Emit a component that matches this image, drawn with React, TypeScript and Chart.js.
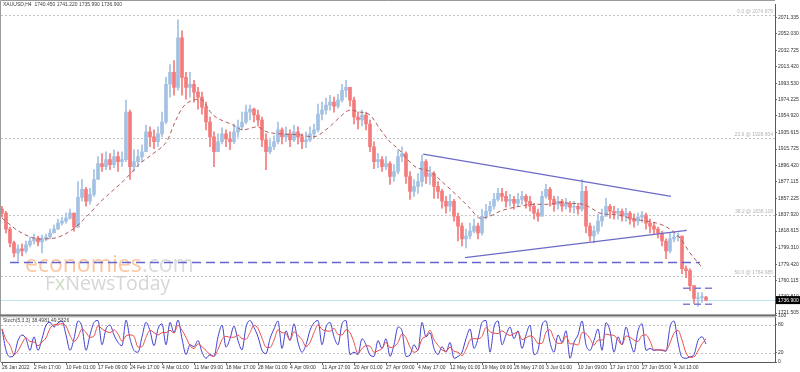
import React, { useEffect, useRef } from "react";
import { Chart, registerables } from "chart.js";

Chart.register(...registerables);

// ---------- DATA ----------
const headerText = "XAUUSD,H4  1740.450 1741.220 1735.990 1736.900";
const stochText = "Stoch(5,3,3) 38.4981 49.5326";

const firstOpen = 1844.5;
const closes = [
  1839.8, 1821.0, 1804.6, 1792.8, 1797.5, 1795.2, 1802.2, 1806.9, 1810.4, 1805.7,
  1809.3, 1811.6, 1816.3, 1821.0, 1828.0, 1830.4, 1833.9, 1839.8, 1823.3, 1858.5,
  1867.9, 1853.9, 1862.1, 1879.7, 1898.5, 1894.9, 1903.1, 1897.3, 1906.7, 1900.8,
  1903.1, 1959.5, 1894.9, 1900.8, 1906.7, 1912.5, 1936.0, 1930.1, 1924.3, 1933.7,
  1947.7, 1992.4, 2006.4, 1988.8, 2047.5, 2000.6, 1988.8, 1992.4, 1983.0, 1977.1,
  1965.4, 1947.7, 1930.1, 1912.5, 1924.3, 1933.7, 1927.8, 1924.3, 1936.0, 1941.9,
  1947.7, 1959.5, 1963.0, 1956.0, 1950.1, 1926.6, 1912.5, 1918.4, 1924.3, 1938.4,
  1930.1, 1933.7, 1926.6, 1936.0, 1930.1, 1924.3, 1926.6, 1933.7, 1938.4, 1957.1,
  1961.8, 1967.7, 1971.2, 1966.5, 1973.6, 1985.3, 1988.8, 1973.6, 1953.6, 1950.1,
  1956.0, 1945.4, 1918.4, 1900.8, 1903.1, 1894.9, 1898.5, 1883.2, 1889.1, 1906.7,
  1910.2, 1883.2, 1865.6, 1871.5, 1877.3, 1900.8, 1883.2, 1886.7, 1871.5, 1865.6,
  1853.9, 1848.0, 1853.9, 1836.2, 1824.5, 1809.3, 1812.8, 1818.6, 1824.5, 1816.3,
  1836.2, 1842.1, 1848.0, 1856.2, 1863.2, 1859.7, 1853.9, 1856.2, 1851.5, 1856.2,
  1859.7, 1853.9, 1848.0, 1839.8, 1836.2, 1859.7, 1867.9, 1856.2, 1850.3, 1853.9,
  1848.0, 1851.5, 1846.8, 1848.0, 1844.5, 1865.6, 1824.5, 1812.8, 1818.6, 1830.4,
  1836.2, 1848.0, 1842.1, 1839.8, 1842.1, 1836.2, 1839.8, 1832.7, 1830.4, 1835.1,
  1837.4, 1828.0, 1824.5, 1821.0, 1816.3, 1806.9, 1795.2, 1809.3, 1811.6, 1812.8,
  1774.0, 1771.7, 1754.1, 1738.8, 1740.0, 1740.45, 1736.9,
];
const highs = [
  1848.0, 1842.1, 1823.3, 1806.9, 1802.2, 1803.4, 1806.9, 1811.6, 1815.1, 1812.8,
  1813.9, 1815.1, 1821.0, 1825.7, 1832.7, 1835.1, 1839.8, 1844.5, 1839.8, 1877.3,
  1879.7, 1870.3, 1869.1, 1891.4, 1906.7, 1910.2, 1912.5, 1910.2, 1914.9, 1912.5,
  1912.5, 1973.6, 1961.8, 1914.9, 1914.9, 1920.8, 1944.2, 1941.9, 1938.4, 1941.9,
  1959.5, 2000.6, 2015.8, 2020.5, 2068.6, 2055.7, 2006.4, 2006.4, 1997.0, 1988.8,
  1983.0, 1971.2, 1953.6, 1936.0, 1933.7, 1940.7, 1938.4, 1936.0, 1945.4, 1950.1,
  1959.5, 1967.7, 1967.7, 1964.2, 1961.8, 1953.6, 1933.7, 1926.6, 1931.3, 1947.7,
  1940.7, 1941.9, 1938.4, 1944.2, 1941.9, 1933.7, 1936.0, 1941.9, 1945.4, 1968.9,
  1971.2, 1975.9, 1979.4, 1977.1, 1980.6, 1992.4, 1997.0, 1988.8, 1977.1, 1959.5,
  1961.8, 1959.5, 1950.1, 1924.3, 1910.2, 1906.7, 1906.7, 1900.8, 1897.3, 1914.9,
  1918.4, 1912.5, 1889.1, 1879.7, 1886.7, 1909.0, 1903.1, 1894.9, 1889.1, 1877.3,
  1867.9, 1859.7, 1862.1, 1856.2, 1839.8, 1828.0, 1821.0, 1828.0, 1832.7, 1828.0,
  1844.5, 1850.3, 1853.9, 1863.2, 1869.1, 1869.1, 1865.6, 1862.1, 1859.7, 1863.2,
  1865.6, 1862.1, 1859.7, 1851.5, 1844.5, 1865.6, 1873.8, 1870.3, 1859.7, 1859.7,
  1856.2, 1857.4, 1853.9, 1853.9, 1851.5, 1879.7, 1871.5, 1828.0, 1824.5, 1838.6,
  1844.5, 1857.4, 1850.3, 1848.0, 1845.6, 1844.5, 1845.6, 1842.1, 1838.6, 1839.8,
  1842.1, 1839.8, 1832.7, 1828.0, 1823.3, 1818.6, 1809.3, 1816.3, 1816.3, 1816.3,
  1812.8, 1777.6, 1774.0, 1754.1, 1745.9, 1745.9, 1741.22,
];
const lows = [
  1835.1, 1816.3, 1799.9, 1788.1, 1783.4, 1789.3, 1792.8, 1799.9, 1803.4, 1801.0,
  1792.8, 1806.9, 1809.3, 1816.3, 1821.0, 1825.7, 1828.0, 1832.7, 1818.6, 1823.3,
  1853.9, 1848.0, 1850.3, 1859.7, 1889.1, 1889.1, 1891.4, 1891.4, 1893.8, 1889.1,
  1894.9, 1900.8, 1879.7, 1889.1, 1894.9, 1900.8, 1912.5, 1918.4, 1916.1, 1918.4,
  1930.1, 1945.4, 1977.1, 1979.4, 1985.3, 1979.4, 1974.7, 1977.1, 1971.2, 1963.0,
  1957.1, 1938.4, 1918.4, 1894.9, 1912.5, 1921.9, 1918.4, 1914.9, 1922.0, 1930.1,
  1938.4, 1945.4, 1950.1, 1947.7, 1943.1, 1918.4, 1891.4, 1910.2, 1914.9, 1921.9,
  1921.9, 1924.3, 1918.4, 1924.3, 1921.9, 1916.1, 1917.2, 1924.3, 1929.0, 1936.0,
  1950.1, 1957.1, 1961.8, 1959.5, 1964.2, 1971.2, 1977.1, 1966.5, 1945.4, 1939.5,
  1943.1, 1938.4, 1912.5, 1892.6, 1893.8, 1889.1, 1891.4, 1873.8, 1877.3, 1886.7,
  1900.8, 1875.0, 1856.2, 1859.7, 1863.2, 1871.5, 1875.0, 1873.8, 1857.4, 1857.4,
  1845.6, 1839.8, 1842.1, 1830.4, 1806.9, 1801.0, 1798.7, 1809.3, 1816.3, 1809.3,
  1813.9, 1832.7, 1837.4, 1844.5, 1853.9, 1853.9, 1846.8, 1848.0, 1844.5, 1848.0,
  1850.3, 1845.6, 1842.1, 1832.7, 1830.4, 1836.2, 1857.4, 1848.0, 1842.1, 1844.5,
  1842.1, 1844.5, 1840.9, 1839.8, 1838.6, 1842.1, 1816.3, 1806.9, 1804.6, 1815.1,
  1824.5, 1836.2, 1833.9, 1832.7, 1832.7, 1830.4, 1830.4, 1826.9, 1823.3, 1825.7,
  1829.2, 1821.0, 1816.3, 1815.1, 1810.4, 1801.0, 1785.8, 1792.8, 1805.7, 1806.9,
  1768.2, 1763.5, 1748.2, 1733.0, 1729.4, 1734.1, 1735.99,
];

// dashed moving average (bar index / price)
const maIndex = [
  0, 4.5, 9.5, 13.25, 17.75, 21.25, 24.5, 27.75, 30.75, 34.5, 37.75, 41.25, 43.25, 45.25,
  47.75, 49.5, 52.75, 57.75, 60.25, 63.75, 66.25, 69.5, 74.5, 77.75, 81.25, 84.5, 87, 89.5,
  92, 94.5, 97, 99, 103.25, 107, 110.75, 114.5, 117, 119.5, 122, 124.5, 127, 129.5, 132.75,
  137, 139.5, 142, 145.25, 147.75, 149.5, 154.5, 157, 159.5, 164.5, 167, 169.5, 172, 175.25,
];
const maValues = [
  1833.9, 1817.5, 1809.3, 1810.4, 1821.0, 1836.2, 1852.7, 1866.8, 1879.7, 1898.5, 1910.2,
  1925.4, 1947.7, 1965.4, 1973.6, 1974.7, 1956.0, 1944.2, 1938.4, 1941.9, 1936.0, 1933.7,
  1932.5, 1930.1, 1939.5, 1953.6, 1961.8, 1959.5, 1956.0, 1939.5, 1924.3, 1916.1, 1894.9,
  1889.1, 1873.8, 1857.4, 1845.6, 1833.9, 1836.2, 1842.1, 1845.6, 1848.0, 1850.3, 1850.3,
  1852.7, 1851.5, 1850.3, 1844.5, 1839.8, 1837.4, 1833.9, 1831.6, 1826.9, 1821.0, 1810.4,
  1792.8, 1774.0,
];

// stochastic %K and %D
const stochK = [
  71, 25, 11, 15, 46, 58, 50, 25, 54, 25,
  50, 79, 85, 75, 84, 88, 58, 25, 50, 88,
  75, 25, 58, 85, 89, 37, 71, 79, 58, 42,
  35, 90, 50, 25, 21, 54, 85, 67, 35, 71,
  82, 37, 85, 63, 90, 50, 16, 37, 33, 46,
  21, 8, 16, 12, 54, 79, 32, 50, 77, 46,
  26, 75, 89, 74, 54, 25, 18, 50, 71, 88,
  29, 67, 46, 82, 42, 21, 37, 68, 84, 89,
  37, 75, 85, 54, 37, 82, 89, 16, 21, 16,
  50, 37, 15, 12, 46, 29, 50, 12, 37, 75,
  67, 12, 15, 37, 25, 85, 54, 63, 29, 16,
  33, 21, 42, 8, 12, 21, 50, 71, 29, 50,
  85, 89, 21, 75, 88, 37, 58, 75, 50, 67,
  29, 58, 79, 16, 25, 79, 88, 42, 21, 58,
  42, 67, 8, 42, 58, 88, 37, 25, 46, 71,
  25, 84, 67, 21, 54, 37, 75, 46, 21, 67,
  82, 25, 29, 25, 26, 25, 23, 75, 88, 42,
  10, 8, 11, 16, 46, 54, 38.5,
];
const stochD = [
  71, 48, 36, 16, 24, 40, 52, 44, 43, 35,
  43, 52, 72, 80, 81, 82, 77, 57, 44, 54,
  71, 63, 53, 56, 78, 71, 66, 63, 69, 60,
  45, 56, 58, 55, 32, 33, 53, 68, 63, 58,
  63, 63, 68, 62, 79, 68, 53, 35, 29, 39,
  33, 25, 15, 12, 27, 48, 55, 53, 53, 58,
  50, 49, 63, 79, 72, 51, 32, 31, 47, 69,
  63, 61, 47, 65, 57, 48, 33, 42, 63, 80,
  70, 67, 66, 72, 59, 58, 69, 63, 42, 18,
  29, 35, 34, 21, 24, 29, 42, 31, 33, 42,
  60, 52, 32, 21, 26, 49, 55, 68, 48, 36,
  26, 23, 32, 23, 21, 14, 27, 47, 50, 50,
  55, 74, 65, 62, 61, 67, 61, 57, 61, 64,
  48, 52, 56, 52, 40, 40, 64, 69, 50, 40,
  40, 56, 39, 39, 36, 63, 61, 50, 36, 47,
  47, 60, 58, 57, 47, 37, 56, 53, 47, 44,
  57, 58, 45, 26, 26, 26, 25, 41, 62, 68,
  47, 20, 10, 11, 24, 39, 49.5,
];
const stochLevels = [20, 80];
const stochTicks = [0, 20, 80, 100];

// drawn objects (bar index / price)
const supportLevel = 1781.4;
const supportFrom = 2;
const supportTo = 174.5;
const upperTrendX = [105.3, 167.25];
const upperTrendY = [1909.8, 1859.7];
const lowerTrendX = [115.75, 171.2];
const lowerTrendY = [1787.3, 1819.5];
const rangeX = [170.25, 178];
const rangeHigh = 1750.9;
const rangeLow = 1732.1;

// fibonacci retracement
const fibLevels = ["0.0", "23.6", "38.2", "50.0"];
const fibPrices = [2074.875, 1928.604, 1838.118, 1764.985];
const currentPrice = 1736.9;

// axes
const priceTicks = [
  2071.335, 2052.03, 2032.725, 2013.42, 1993.53, 1974.225, 1954.92, 1935.615, 1915.725,
  1896.42, 1877.115, 1857.225, 1837.92, 1818.615, 1799.31, 1779.42, 1760.115, 1740.81,
  1721.505,
];
const timeTickIdx = [0, 8, 16, 24, 32, 40, 48, 56, 64, 72, 80, 88, 96, 104, 112, 120, 128, 136, 144, 152, 160, 168];
const timeTickLabels = [
  "26 Jan 2022", "2 Feb 17:00", "10 Feb 01:00", "17 Feb 09:00", "24 Feb 17:00", "4 Mar 01:00",
  "11 Mar 09:00", "18 Mar 17:00", "28 Mar 01:00", "4 Apr 09:00", "11 Apr 17:00", "20 Apr 01:00",
  "27 Apr 09:00", "4 May 17:00", "12 May 01:00", "19 May 09:00", "26 May 17:00", "3 Jun 01:00",
  "10 Jun 09:00", "17 Jun 17:00", "27 Jun 05:00", "4 Jul 13:00",
];

const FONT = '"Liberation Sans", Arial, sans-serif';

export default function App() {
  const ref = useRef<HTMLCanvasElement>(null);

  useEffect(() => {
    const canvas = ref.current;
    if (!canvas) return;
    const opens = closes.map((c, i) => (i === 0 ? firstOpen : closes[i - 1]));
    const upColor = "#a3c1e2";
    const downColor = "#f47b7b";
    const colors = closes.map((c, i) => (c >= opens[i] ? upColor : downColor));

    const overlay: any = {
      id: "overlay",
      beforeDatasetsDraw(chart: any) {
        const { ctx, chartArea, scales } = chart;
        const y = scales.y;
        const ys = scales.yStoch;
        ctx.save();
        // watermark
        ctx.textBaseline = "alphabetic";
        ctx.textAlign = "left";
        ctx.font = '23px "Open Sans", sans-serif';
        ctx.fillStyle = "#fcc7a0";
        ctx.fillText("economies", 25, 272);
        const w = ctx.measureText("economies").width;
        ctx.fillStyle = "#dcdcdc";
        ctx.fillText(".com", 25 + w, 272);
        ctx.font = '19.5px "Open Sans", sans-serif';
        ctx.fillStyle = "#d6d6d6";
        ctx.fillText("F", 45, 290);
        const wf = ctx.measureText("F").width;
        ctx.fillStyle = "#c9dcc0";
        ctx.fillText("x", 45 + wf, 290);
        const wx = ctx.measureText("x").width;
        ctx.fillStyle = "#d6d6d6";
        ctx.fillText("NewsToday", 45 + wf + wx, 290);

        // fib lines
        ctx.setLineDash([2, 2]);
        ctx.lineWidth = 1;
        ctx.strokeStyle = "#c4c4c4";
        ctx.font = `5px ${FONT}`;
        ctx.textAlign = "right";
        ctx.textBaseline = "bottom";
        fibPrices.forEach((p, i) => {
          const py = Math.round(y.getPixelForValue(p)) + 0.5;
          ctx.beginPath();
          ctx.moveTo(chartArea.left, py);
          ctx.lineTo(chartArea.right, py);
          ctx.stroke();
          ctx.fillStyle = "#b4b4b4";
          ctx.fillText(`${fibLevels[i]} @ ${p.toFixed(3)}`, chartArea.right - 2, py - 1);
        });
        // stoch levels
        stochLevels.forEach((lv) => {
          const py = Math.round(ys.getPixelForValue(lv)) + 0.5;
          ctx.beginPath();
          ctx.moveTo(chartArea.left, py);
          ctx.lineTo(chartArea.right, py);
          ctx.stroke();
        });
        ctx.setLineDash([]);
        // current price line
        const cy = Math.round(y.getPixelForValue(currentPrice)) + 0.5;
        ctx.strokeStyle = "#bfe4ee";
        ctx.beginPath();
        ctx.moveTo(chartArea.left, cy);
        ctx.lineTo(chartArea.right, cy);
        ctx.stroke();
        ctx.restore();
      },
      afterDraw(chart: any) {
        const { ctx, chartArea, scales } = chart;
        const y = scales.y;
        const ys = scales.yStoch;
        ctx.save();
        // frames
        ctx.strokeStyle = "#9a9a9a";
        ctx.lineWidth = 1;
        ctx.beginPath();
        ctx.moveTo(0.5, y.bottom);
        ctx.lineTo(0.5, 0.5);
        ctx.lineTo(chartArea.right, 0.5);
        ctx.moveTo(0.5, ys.top);
        ctx.lineTo(0.5, ys.bottom);
        ctx.stroke();
        ctx.fillStyle = "#6e6e6e";
        ctx.fillRect(0, y.bottom - 1, chartArea.right + 1, 2);
        ctx.fillStyle = "#b0b0b0";
        ctx.fillRect(0, y.bottom + 1, chartArea.right + 1, 1);
        // header texts
        ctx.font = `5px ${FONT}`;
        ctx.fillStyle = "#404040";
        ctx.textAlign = "left";
        ctx.textBaseline = "middle";
        ctx.fillText(headerText, 3, 5);
        ctx.fillText(stochText, 3, ys.top + 5);
        // current price box
        const cy = y.getPixelForValue(currentPrice);
        ctx.fillStyle = "#000000";
        ctx.fillRect(chartArea.right + 1, cy - 4, 24, 8);
        ctx.fillStyle = "#ffffff";
        ctx.fillText(currentPrice.toFixed(3), chartArea.right + 3, cy + 0.5);
        ctx.restore();
      },
    };

    const lineBase = {
      type: "line",
      yAxisID: "y",
      pointRadius: 0,
      fill: false,
      tension: 0,
    };

    const chart = new Chart(canvas, {
      type: "bar",
      data: {
        datasets: [
          {
            type: "bar",
            data: closes.map((_, i) => ({ x: i, y: [lows[i], highs[i]] })),
            backgroundColor: colors,
            barThickness: 1,
            grouped: false,
            order: 6,
            yAxisID: "y",
          } as any,
          {
            type: "bar",
            data: closes.map((c, i) => ({ x: i, y: [opens[i], c] })),
            backgroundColor: colors,
            barThickness: 3,
            minBarLength: 1,
            grouped: false,
            order: 5,
            yAxisID: "y",
          } as any,
          {
            ...lineBase,
            data: maIndex.map((x, i) => ({ x, y: maValues[i] })),
            borderColor: "#b25a5a",
            borderWidth: 1,
            borderDash: [4, 3],
            cubicInterpolationMode: "monotone",
            order: 4,
          } as any,
          {
            ...lineBase,
            data: [
              { x: supportFrom, y: supportLevel },
              { x: supportTo, y: supportLevel },
            ],
            borderColor: "#6464cc",
            borderWidth: 1.5,
            borderDash: [9, 5],
            order: 3,
          } as any,
          {
            ...lineBase,
            data: upperTrendX.map((x, i) => ({ x, y: upperTrendY[i] })),
            borderColor: "#6b6bc6",
            borderWidth: 1.3,
            order: 3,
          } as any,
          {
            ...lineBase,
            data: lowerTrendX.map((x, i) => ({ x, y: lowerTrendY[i] })),
            borderColor: "#6b6bc6",
            borderWidth: 1.3,
            order: 3,
          } as any,
          {
            ...lineBase,
            data: rangeX.map((x) => ({ x, y: rangeHigh })),
            borderColor: "#7f7fd8",
            borderWidth: 1.5,
            borderDash: [7, 4],
            order: 3,
          } as any,
          {
            ...lineBase,
            data: rangeX.map((x) => ({ x, y: rangeLow })),
            borderColor: "#7f7fd8",
            borderWidth: 1.5,
            borderDash: [7, 4],
            order: 3,
          } as any,
          {
            ...lineBase,
            yAxisID: "yStoch",
            data: stochK.map((v, i) => ({ x: i, y: v })),
            borderColor: "#4040d0",
            borderWidth: 1,
            cubicInterpolationMode: "monotone",
            order: 2,
          } as any,
          {
            ...lineBase,
            yAxisID: "yStoch",
            data: stochD.map((v, i) => ({ x: i, y: v })),
            borderColor: "#e85050",
            borderWidth: 1,
            cubicInterpolationMode: "monotone",
            order: 1,
          } as any,
        ],
      },
      options: {
        responsive: true,
        maintainAspectRatio: false,
        animation: false,
        events: [],
        layout: { padding: { left: 1, top: 1, right: 0, bottom: 0 } },
        plugins: {
          legend: { display: false },
          tooltip: { enabled: false },
          title: { display: false },
        },
        scales: {
          x: {
            type: "linear",
            position: "bottom",
            min: -0.25,
            max: 193.25,
            offset: false,
            grid: { display: true, drawOnChartArea: false, drawTicks: true, tickLength: 3, color: "#707070", offset: false },
            border: { display: true, color: "#5a5a5a", width: 1 },
            afterBuildTicks: (s: any) => {
              s.ticks = timeTickIdx.map((v) => ({ value: v }));
            },
            afterFit: (s: any) => {
              s.height = 10;
            },
            ticks: {
              autoSkip: false,
              maxRotation: 0,
              minRotation: 0,
              align: "start",
              padding: 0,
              color: "#303030",
              font: { size: 5, family: FONT },
              callback: (_v: any, i: number) => timeTickLabels[i],
            },
          },
          y: {
            type: "linear",
            position: "right",
            stack: "panels",
            stackWeight: 314,
            min: 1718.8,
            max: 2087.4,
            offset: false,
            grid: { drawOnChartArea: false, drawTicks: true, tickLength: 2, color: "#707070" },
            border: { display: true, color: "#5a5a5a", width: 1 },
            afterBuildTicks: (s: any) => {
              s.ticks = priceTicks.map((v) => ({ value: v }));
            },
            afterFit: (s: any) => {
              s.width = 25;
            },
            ticks: {
              autoSkip: false,
              padding: 1,
              color: "#303030",
              font: { size: 5, family: FONT },
              callback: (v: any) => Number(v).toFixed(3),
            },
          },
          yStoch: {
            type: "linear",
            position: "right",
            stack: "panels",
            stackWeight: 47,
            min: 0,
            max: 100,
            offset: false,
            grid: { drawOnChartArea: false, drawTicks: true, tickLength: 2, color: "#707070" },
            border: { display: true, color: "#5a5a5a", width: 1 },
            afterBuildTicks: (s: any) => {
              s.ticks = stochTicks.map((v) => ({ value: v }));
            },
            afterFit: (s: any) => {
              s.width = 25;
            },
            ticks: {
              autoSkip: false,
              padding: 1,
              color: "#303030",
              font: { size: 5, family: FONT },
              labelOffset: (c: any) => (c.tick && c.tick.value === 100 ? 3 : c.tick && c.tick.value === 0 ? -4 : 0),
              callback: (v: any) => String(v),
            },
          },
        },
      } as any,
      plugins: [overlay],
    });
    return () => chart.destroy();
  }, []);

  return (
    <div style={{ position: "fixed", left: 0, top: 0, width: 800, height: 372, background: "#ffffff" }}>
      <canvas ref={ref} />
    </div>
  );
}
